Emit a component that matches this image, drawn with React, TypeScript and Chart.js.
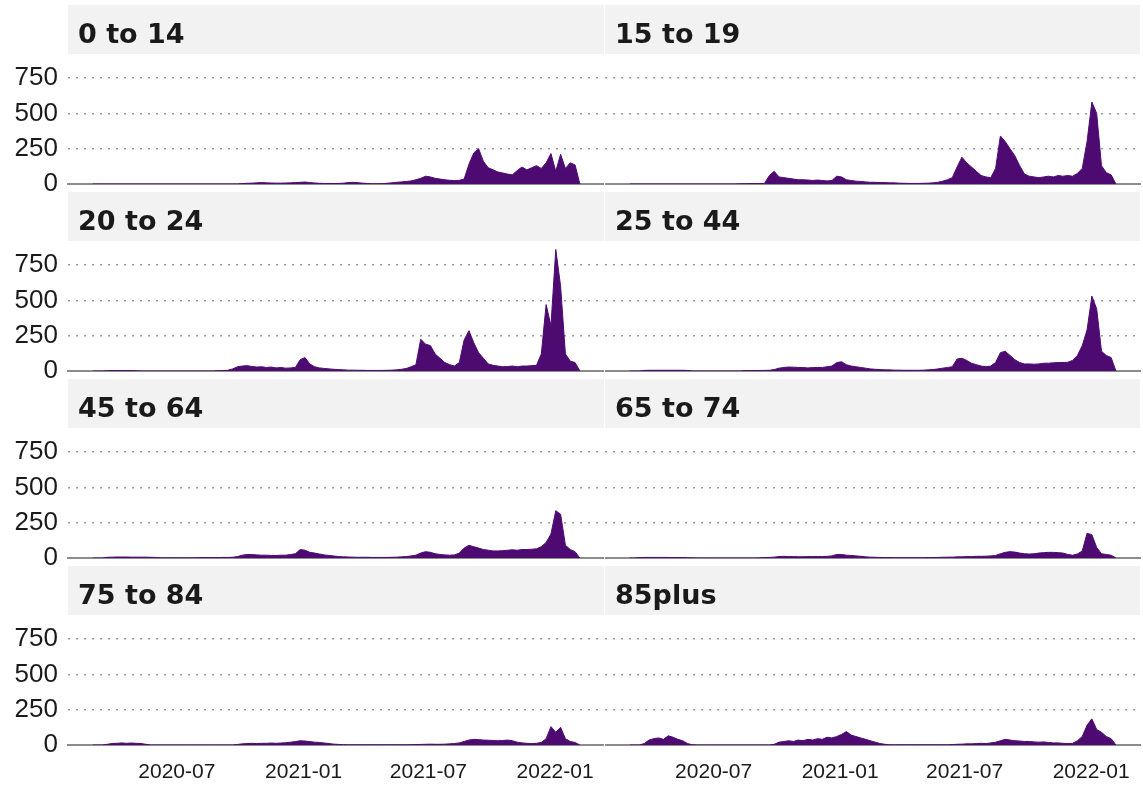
import React, { useEffect, useRef } from 'react';
import { Chart, registerables } from 'chart.js';

Chart.register(...registerables);

// ---------- data (weekly readings, starting 2020-03-01) ----------
const START_DATE = '2020-03-01';
const STEP_DAYS = 7;
const AXIS_MIN_DATE = '2020-01-25';
const AXIS_MAX_DATE = '2022-03-13';

const TICK_DATES = ['2020-07-01', '2021-01-01', '2021-07-01', '2022-01-01'];
const TICK_LABELS = ['2020-07', '2021-01', '2021-07', '2022-01'];
const Y_TICKS = [0, 250, 500, 750];
const Y_MAX = 920;

const PANEL_TITLES = ['0 to 14', '15 to 19', '20 to 24', '25 to 44', '45 to 64', '65 to 74', '75 to 84', '85plus'];

const AGE_0_14 = [
  0, 0, 0, 0, 0, 0, 0, 0, 0, 0,
  0, 0, 0, 0, 0, 0, 0, 0, 0, 0,
  0, 0, 0, 0, 0, 0, 0, 0, 0, 0,
  0, 3, 5, 6, 8, 10, 8, 7, 6, 6,
  7, 8, 10, 12, 14, 10, 7, 5, 4, 4,
  3, 4, 6, 10, 12, 9, 6, 3, 2, 2,
  2, 5, 8, 12, 15, 18, 22, 30, 40, 55,
  50, 40, 35, 30, 26, 24, 26, 35, 140, 220,
  250, 160, 115, 100, 85, 78, 70, 65, 95, 120,
  100, 115, 130, 110, 150, 215, 90, 210, 110, 150,
  135, 0,
];

const AGE_15_19 = [
  0, 0, 0, 0, 0, 0, 0, 0, 0, 0,
  0, 0, 0, 0, 0, 0, 0, 0, 0, 0,
  0, 0, 0, 2, 2, 3, 3, 3, 4, 60,
  90, 50, 45, 40, 35, 30, 30, 28, 25, 28,
  25, 22, 25, 55, 50, 30, 25, 20, 18, 15,
  12, 12, 10, 10, 8, 8, 6, 5, 4, 4,
  4, 5, 6, 8, 12, 20, 30, 45, 120, 190,
  150, 120, 90, 60, 50, 45, 110, 340, 300, 250,
  200, 130, 70, 55, 50, 45, 50, 55, 50, 60,
  55, 60, 55, 75, 110, 300, 580, 500, 130, 80,
  65, 0,
];

const AGE_20_24 = [
  0, 0, 0, 2, 3, 3, 3, 3, 3, 2,
  0, 0, 0, 0, 0, 0, 0, 0, 0, 0,
  0, 0, 0, 0, 0, 0, 2, 3, 5, 15,
  30, 35, 38, 32, 28, 30, 25, 28, 22, 25,
  20, 22, 25, 80, 95, 50, 30, 22, 18, 15,
  12, 10, 8, 6, 6, 5, 5, 4, 4, 4,
  4, 5, 6, 8, 12, 18, 30, 45, 225, 190,
  180, 120, 90, 60, 45, 35, 60, 220, 285, 200,
  130, 90, 50, 40, 35, 30, 32, 35, 30, 35,
  35, 38, 40, 120, 470, 320, 860, 600, 120, 70,
  60, 0,
];

const AGE_25_44 = [
  0, 0, 0, 4, 5, 5, 5, 5, 5, 5,
  5, 5, 4, 0, 0, 0, 0, 0, 0, 0,
  0, 0, 0, 0, 3, 3, 3, 4, 4, 5,
  10, 20, 25, 28, 27, 25, 24, 22, 24, 25,
  25, 30, 35, 60, 65, 45, 35, 30, 25, 20,
  15, 12, 10, 8, 8, 6, 6, 5, 5, 5,
  5, 6, 8, 10, 15, 20, 25, 30, 85, 90,
  75, 55, 45, 35, 30, 35, 60, 130, 140, 110,
  80, 60, 50, 50, 48, 50, 55, 55, 58, 60,
  60, 62, 75, 110, 180, 290, 530, 440, 140, 110,
  95, 0,
];

const AGE_45_64 = [
  0, 0, 0, 5, 6, 7, 7, 7, 6, 6,
  6, 6, 5, 4, 1, 1, 1, 1, 1, 1,
  1, 1, 2, 3, 3, 3, 3, 4, 4, 5,
  10, 20, 25, 24, 22, 20, 20, 18, 18, 20,
  20, 25, 30, 60, 55, 40, 35, 28, 22, 18,
  14, 10, 8, 7, 6, 5, 5, 5, 4, 4,
  4, 4, 5, 6, 8, 10, 15, 20, 35, 45,
  40, 30, 25, 22, 20, 22, 35, 70, 90, 80,
  70, 60, 55, 50, 50, 52, 55, 58, 55, 60,
  60, 62, 65, 80, 110, 170, 335, 310, 90, 60,
  45, 0,
];

const AGE_65_74 = [
  0, 0, 3, 4, 4, 4, 4, 4, 4, 3,
  3, 3, 2, 1, 0, 0, 0, 0, 0, 0,
  0, 0, 0, 0, 0, 0, 0, 1, 3, 4,
  6, 10, 12, 10, 10, 9, 9, 10, 10, 10,
  10, 12, 15, 25, 25, 20, 18, 15, 12, 8,
  6, 5, 4, 3, 3, 2, 2, 2, 2, 2,
  2, 2, 3, 3, 4, 5, 6, 6, 8, 8,
  10, 10, 12, 12, 13, 15, 18, 30, 40, 45,
  42, 35, 30, 28, 30, 35, 38, 40, 40, 38,
  35, 25, 20, 28, 50, 175, 165, 75, 30, 25,
  20, 0,
];

const AGE_75_84 = [
  0, 0, 0, 5, 10, 12, 15, 12, 14, 12,
  10, 5, 0, 0, 0, 0, 0, 0, 0, 0,
  0, 0, 0, 0, 0, 0, 0, 0, 0, 0,
  4, 8, 10, 12, 10, 12, 12, 14, 12, 14,
  16, 20, 24, 30, 28, 24, 20, 18, 14, 10,
  6, 4, 2, 1, 1, 1, 1, 1, 1, 1,
  1, 1, 1, 1, 1, 1, 2, 3, 4, 5,
  6, 5, 5, 6, 8, 10, 15, 25, 35, 40,
  38, 35, 34, 32, 30, 32, 35, 30, 20, 15,
  12, 10, 12, 18, 45, 130, 90, 125, 45, 25,
  18, 0,
];

const AGE_85_PLUS = [
  0, 0, 0, 10, 35, 45, 50, 40, 65, 55,
  40, 30, 10, 2, 0, 0, 0, 0, 0, 0,
  0, 0, 0, 0, 0, 0, 0, 0, 0, 0,
  5, 20, 25, 30, 25, 35, 30, 40, 35, 45,
  40, 55, 50, 60, 75, 95, 70, 60, 50, 40,
  30, 20, 10, 5, 1, 1, 1, 1, 1, 1,
  1, 1, 1, 1, 1, 1, 1, 3, 5, 6,
  8, 8, 10, 12, 10, 15, 20, 30, 40, 35,
  30, 28, 25, 25, 22, 20, 22, 18, 15, 15,
  12, 10, 12, 30, 60, 140, 185, 110, 90, 60,
  45, 0,
];

const PANEL_SERIES = [AGE_0_14, AGE_15_19, AGE_20_24, AGE_25_44, AGE_45_64, AGE_65_74, AGE_75_84, AGE_85_PLUS];

// ---------- styling / layout ----------
const PURPLE = '#4d0b72';
const TEXT = '#1a1a1a';
const AXIS_FONT = '"Liberation Sans", Arial, sans-serif';
const TITLE_FONT = '"DejaVu Sans", sans-serif';
const ROW_TOP0 = 5;
const ROW_PITCH = 187;
const STRIP_H = 49;
const PLOT_H = 130;
const BELOW_INNER = 16;
const COL_X = [0, 605];
const COL_W = [604, 538];
const COL_RIGHT_PAD = [0, 3];
const Y_AXIS_W = 68;
const TOTAL_H = 785;

const DAY = 86400000;
const dayOf = (s: string) => (Date.parse(s) - Date.parse(START_DATE)) / DAY;
const TICK_DAYS = TICK_DATES.map(dayOf);

Chart.defaults.font.family = AXIS_FONT;

const zeroPadding = (scale: any) => {
  scale.paddingLeft = 0;
  scale.paddingRight = 0;
  scale.paddingTop = 0;
  scale.paddingBottom = 0;
};

function Panel({ index }: { index: number }) {
  const ref = useRef<HTMLCanvasElement>(null);
  const row = Math.floor(index / 2);
  const col = index % 2;
  const isBottom = row === 3;
  const isLeft = col === 0;
  const top = ROW_TOP0 + row * ROW_PITCH;
  const height = isBottom ? TOTAL_H - top : STRIP_H + PLOT_H + BELOW_INNER;
  const width = COL_W[col];

  useEffect(() => {
    const title = PANEL_TITLES[index];
    const values = PANEL_SERIES[index];
    const data = values.map((v, i) => ({ x: i * STEP_DAYS, y: v }));
    const stripPlugin = {
      id: 'strip',
      beforeDraw(chart: any) {
        const { ctx, chartArea } = chart;
        ctx.save();
        ctx.fillStyle = '#f2f2f2';
        ctx.fillRect(chartArea.left, 0, chartArea.right - chartArea.left, STRIP_H);
        ctx.fillStyle = TEXT;
        ctx.font = 'bold 27px ' + TITLE_FONT;
        ctx.textBaseline = 'alphabetic';
        ctx.textAlign = 'left';
        ctx.fillText(title, chartArea.left + 10, 38);
        ctx.restore();
      },
    };
    const chart = new Chart(ref.current as HTMLCanvasElement, {
      type: 'line',
      data: {
        datasets: [
          {
            data,
            fill: 'origin',
            backgroundColor: PURPLE,
            borderColor: PURPLE,
            borderWidth: 1,
            pointRadius: 0,
            tension: 0,
          },
        ],
      },
      options: {
        animation: false,
        responsive: false,
        maintainAspectRatio: false,
        layout: { padding: { top: STRIP_H, right: COL_RIGHT_PAD[col], left: 0, bottom: 0 } },
        plugins: { legend: { display: false }, tooltip: { enabled: false }, title: { display: false } },
        scales: {
          x: {
            type: 'linear',
            min: dayOf(AXIS_MIN_DATE),
            max: dayOf(AXIS_MAX_DATE),
            grid: { display: false, drawTicks: false },
            border: { display: true, color: '#8c8c8c', width: 2 },
            ticks: {
              display: isBottom,
              autoSkip: false,
              maxRotation: 0,
              minRotation: 0,
              padding: 15,
              color: TEXT,
              font: { size: 21, family: AXIS_FONT },
              callback: (value: any) => {
                const i = TICK_DAYS.indexOf(Number(value));
                return i >= 0 ? TICK_LABELS[i] : '';
              },
            },
            afterBuildTicks: (scale: any) => {
              scale.ticks = TICK_DAYS.map((v) => ({ value: v }));
            },
            afterFit: (scale: any) => {
              scale.height = isBottom ? 40 : BELOW_INNER;
              zeroPadding(scale);
            },
          },
          y: {
            min: 0,
            max: Y_MAX,
            grid: {
              drawTicks: false,
              lineWidth: 1.5,
              color: (ctx: any) => (ctx.tick && ctx.tick.value === 0 ? 'rgba(0,0,0,0)' : '#9a9a9a'),
            },
            border: { display: false, dash: [2, 6] },
            ticks: {
              display: isLeft,
              padding: 10,
              color: TEXT,
              font: { size: 26, family: AXIS_FONT },
            },
            afterBuildTicks: (scale: any) => {
              scale.ticks = Y_TICKS.map((v) => ({ value: v }));
            },
            afterFit: (scale: any) => {
              scale.width = isLeft ? Y_AXIS_W : 0;
              zeroPadding(scale);
            },
          },
        },
      },
      plugins: [stripPlugin],
    } as any);
    return () => chart.destroy();
  }, [index]);

  return (
    <canvas
      ref={ref}
      width={width}
      height={height}
      style={{ position: 'absolute', left: COL_X[col], top, width, height }}
    />
  );
}

export default function App() {
  return (
    <div style={{ position: 'absolute', left: 0, top: 0, width: 1143, height: 785, background: '#ffffff', overflow: 'hidden' }}>
      {PANEL_TITLES.map((_, i) => (
        <Panel key={i} index={i} />
      ))}
    </div>
  );
}
